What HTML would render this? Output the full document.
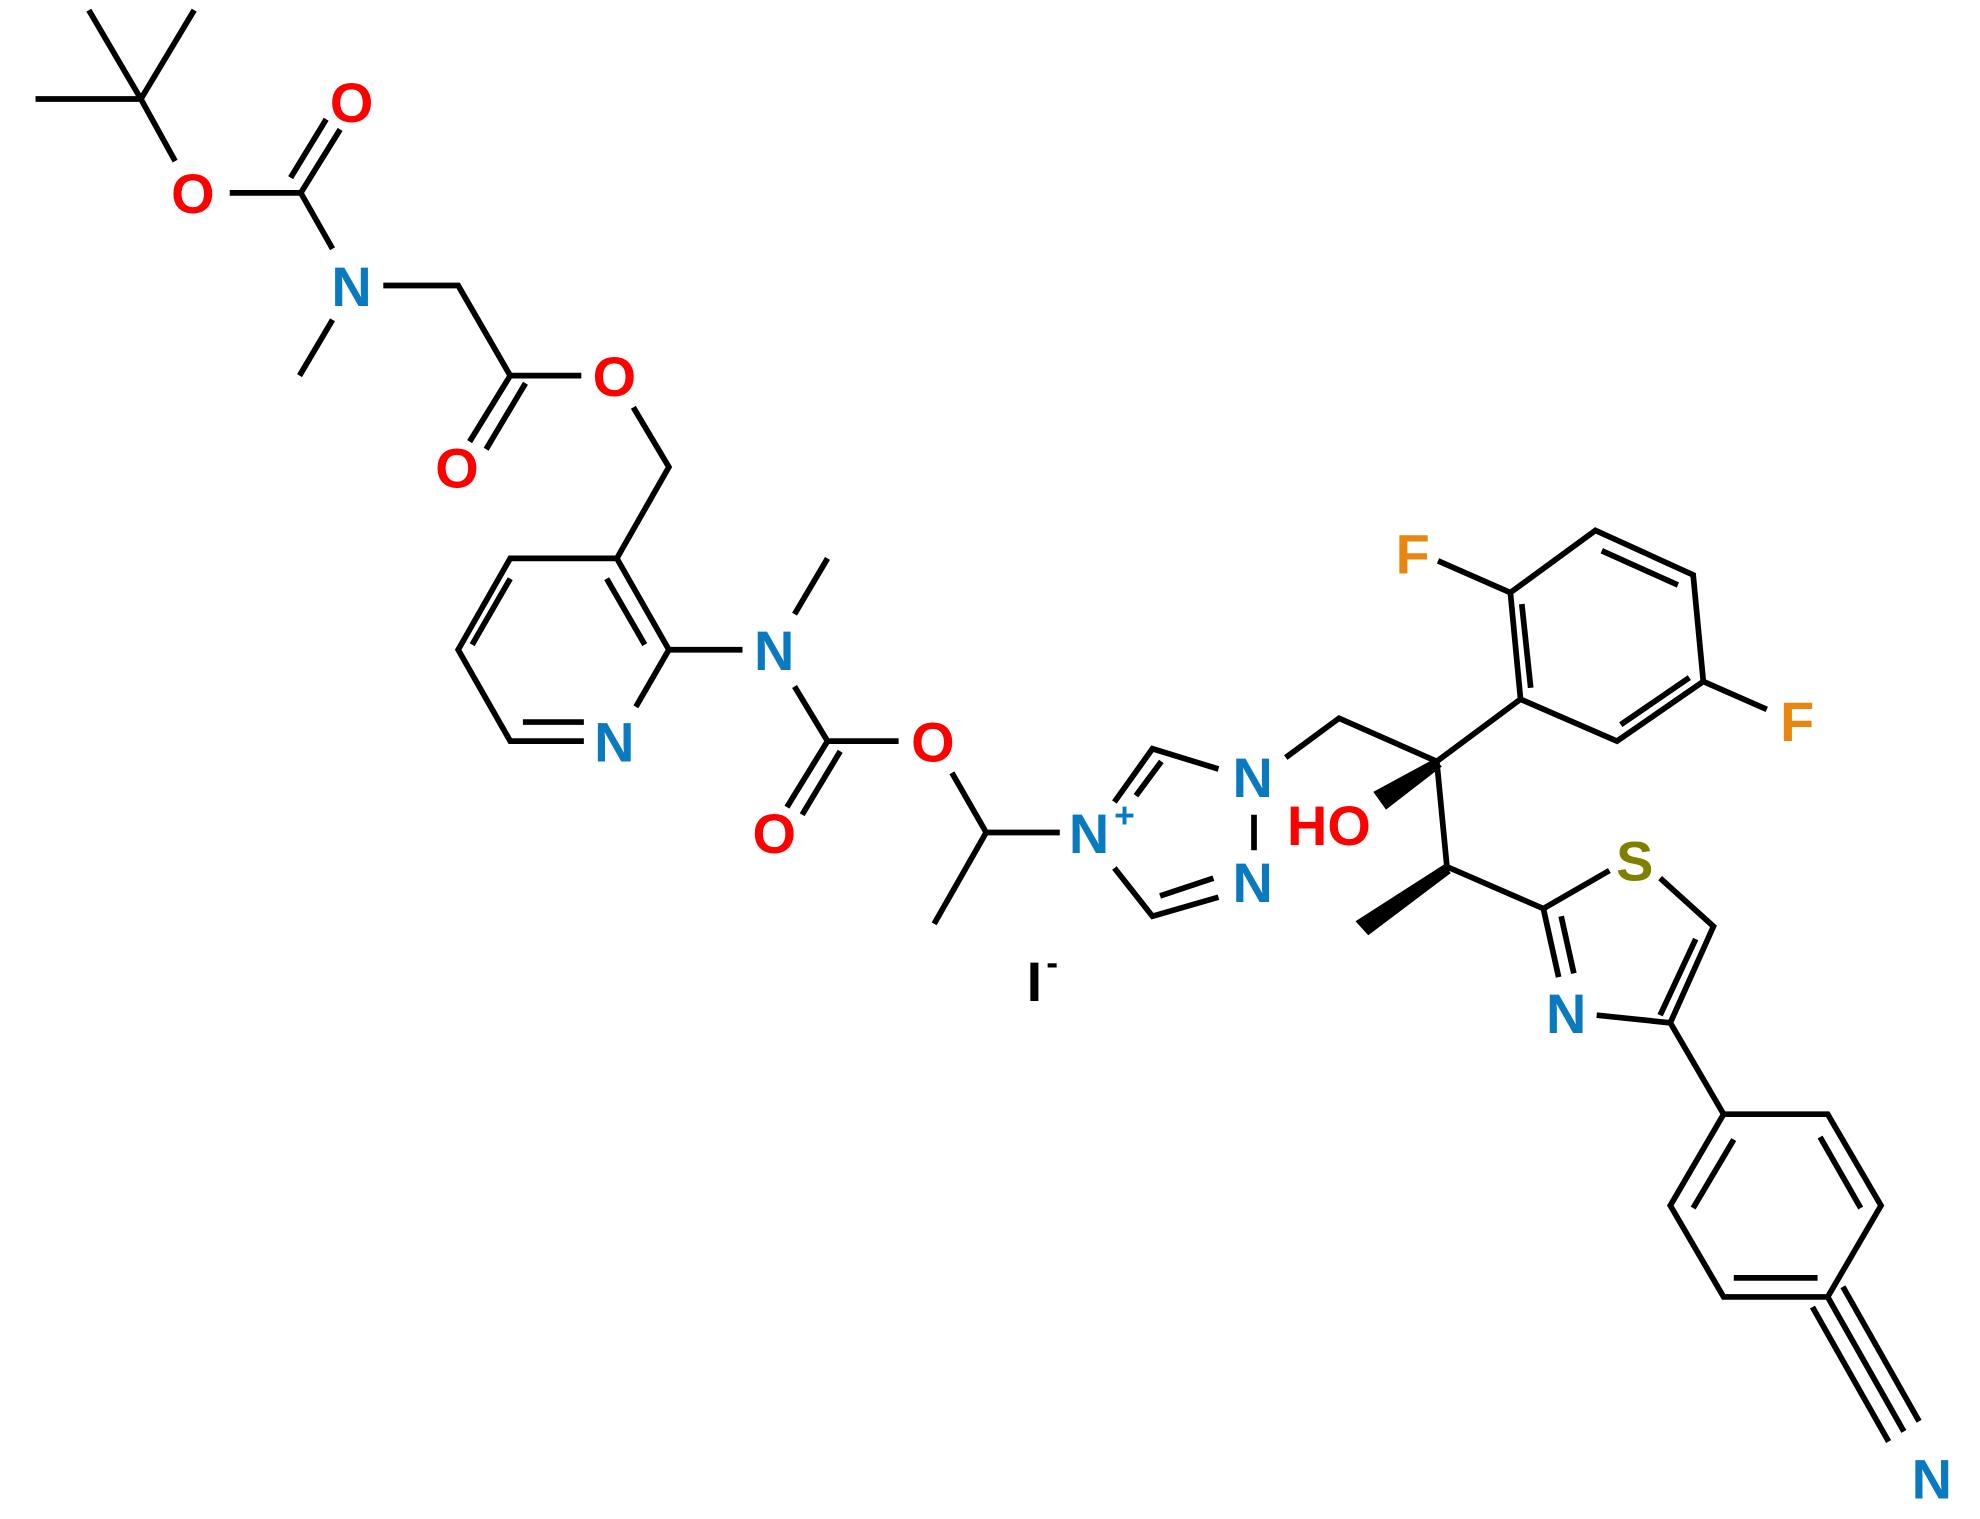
<!DOCTYPE html>
<html><head><meta charset="utf-8"><style>html,body{margin:0;padding:0;background:#fff}svg{display:block}</style></head>
<body>
<svg width="1980" height="1519" viewBox="0 0 1560 1197" preserveAspectRatio="none" xmlns="http://www.w3.org/2000/svg">
<g stroke="#000" stroke-width="4.5" fill="none" stroke-linecap="butt">
<path d="M111 78L70 8M111 78L153 8M111 78L28 78M111 78L138 127"/>
<path d="M181 152L237 152M237 152L262 196M237 152L268 102M229 140L257 94"/>
<path d="M262 252L236 296M302 225L361 225L402 296L458 296"/>
<path d="M402 296L370 348M414 302L383 354"/>
<path d="M499 321L527 368L486 440"/>
<path d="M486 440L402 440L361 512L402 584L460 584M412 569L460 569M402 456L372 508M486 440L527 512L501 557M478 456L508 508M527 512L585 512"/>
<path d="M626 484L652 440M626 541L652 584L708 584M652 584L620 636M662 592L632 642"/>
<path d="M750 609L777 656L736 728M777 656L835 656"/>
<path d="M878 632L908 590L960 606M895 627L915 600M988 642L988 670M960 707L908 722L878 684M914 706L956 692"/>
<path d="M1013 597L1055 566L1132 600L1198 551L1190 467L1257 418L1334 453L1342 537L1274 584L1198 551M1206 542L1199 476M1262 434L1322 461M1331 534L1277 571M1190 467L1133 442M1342 537L1392 559"/>
<path d="M1132 600L1140 683L1216 716L1268 686M1308 692L1350 730L1316 806L1258 800M1228 770L1216 716M1240 767L1230 722M1336 740L1308 800"/>
<path d="M1316 806L1358 878L1440 878L1482 950L1440 1022L1358 1022L1316 950L1358 878M1366 898L1334 952M1434 896L1466 952M1366 1007L1432 1007M1440 1022L1500 1128M1428 1030L1488 1136M1452 1014L1512 1120"/>
</g>
<path d="M1130 598L1136 604L1092 638L1082 624Z" fill="#000"/>
<path d="M1138 681L1143 688L1078 737L1068 726Z" fill="#000"/>
<g font-family="'Liberation Sans', Arial, sans-serif" font-weight="bold" font-size="44" text-anchor="middle">
<text x="277" y="96" fill="#f00">O</text>
<text x="152" y="168" fill="#f00">O</text>
<text x="277" y="241" fill="#0a7ac0">N</text>
<text x="484" y="312" fill="#f00">O</text>
<text x="360" y="384" fill="#f00">O</text>
<text x="610" y="528" fill="#0a7ac0">N</text>
<text x="484" y="600" fill="#0a7ac0">N</text>
<text x="735" y="600" fill="#f00">O</text>
<text x="610" y="672" fill="#f00">O</text>
<text x="858" y="672" fill="#0a7ac0">N</text>
<text x="886" y="652" fill="#0a7ac0" font-size="28">+</text>
<text x="987" y="628" fill="#0a7ac0">N</text>
<text x="987" y="711" fill="#0a7ac0">N</text>
<text x="1047" y="666" fill="#f00">HO</text>
<text x="1113" y="452" fill="#e8870f">F</text>
<text x="1416" y="584" fill="#e8870f">F</text>
<text x="1288" y="694" fill="#808000">S</text>
<text x="1234" y="814" fill="#0a7ac0">N</text>
<text x="1522" y="1181" fill="#0a7ac0">N</text>
<text x="815" y="789" fill="#000">I</text>
<text x="829" y="768" fill="#000" font-size="28">-</text>
</g>
</svg>
</body></html>
